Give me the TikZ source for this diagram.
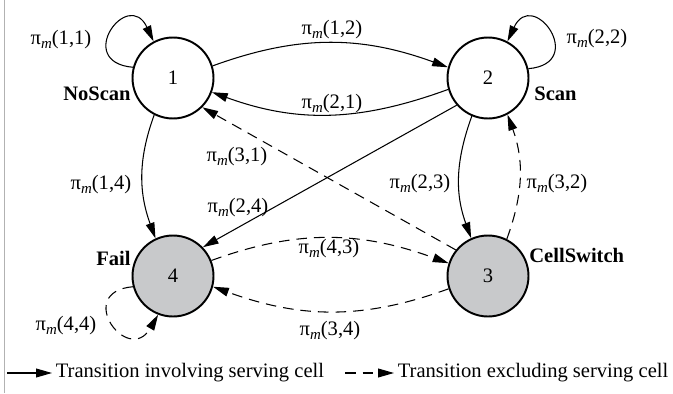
\documentclass[tikz,border=0pt]{standalone}
\usepackage{fontspec}
\setmainfont{Liberation Serif}
\usetikzlibrary{arrows.meta}
\definecolor{cellgray}{RGB}{200,201,203}
\tikzstyle{state} = [circle, minimum size=1.62cm, inner sep=0pt, line width=1.1pt, draw=black]
\tikzstyle{shaded} = [state, fill=cellgray]
\tikzstyle{trans} = [line width=0.6pt, -{Triangle[length=9pt,width=5pt]}]
\tikzstyle{excl} = [trans, dash pattern=on 6pt off 4pt]
\tikzstyle{sname} = [font=\fontsize{11.7}{14}\selectfont\bfseries, inner sep=0pt]
\newcommand{\pim}[2]{π\raisebox{-0.4ex}{\fontsize{8.5}{8.5}\selectfont\itshape m}(#1,#2)}

\begin{document}
\begin{tikzpicture}[x=0.02cm, y=0.02cm, font=\fontsize{11.7}{14}\selectfont]
	\useasboundingbox (0,0) rectangle (673,393);
	\draw[gray!60, line width=0.5pt] (4,0) -- (4,393);
	\node [state] (n1) at (173,315) {1};
	\node [state] (n2) at (488,315) {2};
	\node [shaded] (n3) at (488,117) {3};
	\node [shaded] (n4) at (173,117) {4};
	\node [sname, anchor=east] (s1) at (131,299) {NoScan};
	\node [sname, anchor=west] (s2) at (534,299) {Scan};
	\node [sname, anchor=west] (s3) at (529,138) {CellSwitch};
	\node [sname, anchor=east] (s4) at (131,135) {Fail};
	\draw[trans] (n1.17) to[out=20,in=160] (n2.165);
	\draw[trans] (n2.196) to[out=200,in=-20] (n1.-20);
	\draw[trans] (n1.165) to[out=175,in=115,distance=1.2cm] (n1.118);
	\draw[trans] (n2.13) to[out=5,in=65,distance=1.2cm] (n2.62);
	\draw[trans] (n1.-117) to[out=250,in=110] (n4.115);
	\draw[trans] (n2.-113) to[out=250,in=110] (n3.114);
	\draw[trans] (n2.221) -- (n4.44);
	\draw[excl] (n3.63) to[out=70,in=-70] (n2.-62);
	\draw[excl] (n3.141) -- (n1.-45);
	\draw[excl] (n4.22) to[out=20,in=160] (n3.162);
	\draw[excl] (n3.198) to[out=200,in=-20] (n4.-15);
	\draw[excl] (n4.195) to[out=185,in=240,distance=1.2cm] (n4.249);
	\node (l11) at (61,353) {\pim{1}{1}};
	\node (l12) at (332,363) {\pim{1}{2}};
	\node (l21) at (332,289) {\pim{2}{1}};
	\node (l22) at (597,354) {\pim{2}{2}};
	\node (l31) at (237,236) {\pim{3}{1}};
	\node (l14) at (101,208) {\pim{1}{4}};
	\node (l24) at (238,185) {\pim{2}{4}};
	\node (l23) at (420,209) {\pim{2}{3}};
	\node (l32) at (557,209) {\pim{3}{2}};
	\node (l43) at (329,144) {\pim{4}{3}};
	\node (l34) at (330,62) {\pim{3}{4}};
	\node (l44) at (66,67) {\pim{4}{4}};
	\coordinate (ls) at (7,20);
	\node [anchor=west, inner sep=2pt] (lt1) at (52,20) {Transition involving serving cell};
	\draw[trans] (ls) -- (lt1.west);
	\coordinate (ld) at (345,20);
	\node [anchor=west, inner sep=2pt] (lt2) at (394,20) {Transition excluding serving cell};
	\draw[excl] (ld) -- (lt2.west);
\end{tikzpicture}
\end{document}
